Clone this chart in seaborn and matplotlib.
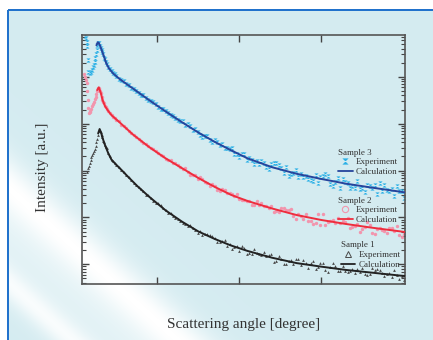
import numpy as np
import matplotlib
matplotlib.use("Agg")
import matplotlib.pyplot as plt
from matplotlib.path import Path
from matplotlib.lines import Line2D
from matplotlib.legend import Legend
from matplotlib.ticker import LogLocator, NullFormatter, FixedLocator, NullLocator
import seaborn as sns

# ---------------------------------------------------------------- data
# scattering angles shared by the three measured curves (after the beam stop)
angle_exp = [
    0.30, 0.31, 0.32, 0.33, 0.34, 0.35, 0.36, 0.37, 0.38, 0.40,
    0.42, 0.44, 0.46, 0.48, 0.50, 0.53, 0.56, 0.59, 0.62, 0.65,
    0.68, 0.71, 0.74, 0.77, 0.80,
    0.83, 0.86, 0.89, 0.92, 0.95, 0.98, 1.01, 1.04, 1.07, 1.10,
    1.13, 1.16, 1.19, 1.22, 1.25, 1.28, 1.31, 1.34, 1.37, 1.40,
    1.43, 1.46, 1.49, 1.52, 1.55, 1.58, 1.61, 1.64, 1.67, 1.70,
    1.73, 1.76, 1.79, 1.82, 1.85, 1.88, 1.91, 1.94, 1.97, 2.00,
    2.03, 2.06, 2.09, 2.12, 2.15, 2.18, 2.21, 2.24, 2.27, 2.30,
    2.33, 2.36, 2.39, 2.42, 2.45, 2.48, 2.51, 2.54, 2.57, 2.60,
    2.63, 2.66, 2.69, 2.72, 2.75, 2.78, 2.81, 2.84, 2.87, 2.90,
    2.93, 2.96, 2.99, 3.02, 3.05, 3.08, 3.11, 3.14, 3.17, 3.20,
    3.23, 3.26, 3.29, 3.32, 3.35, 3.38, 3.41, 3.44, 3.47, 3.50,
    3.53, 3.56, 3.59, 3.62, 3.65, 3.68, 3.71, 3.74, 3.77, 3.80,
    3.83, 3.86, 3.89, 3.92, 3.95, 3.98, 4.01,
]

# Sample 3 -- measured intensity (log10, a.u.)
s3_angle_low = [0.115, 0.124, 0.135, 0.143, 0.149, 0.159, 0.173, 0.185, 0.198,
                0.210, 0.222, 0.234, 0.244, 0.252, 0.261, 0.268, 0.277, 0.286]
s3_exp_low = [4.87, 4.83, 4.75, 4.66, 4.36, 4.10, 4.07, 4.11, 4.15,
              4.20, 4.25, 4.31, 4.39, 4.48, 4.58, 4.68, 4.73, 4.71]
s3_exp = [
    4.65, 4.61, 4.56, 4.52, 4.48, 4.41, 4.37, 4.32, 4.27, 4.21,
    4.16, 4.12, 4.08, 4.05, 4.01, 3.96, 3.92, 3.90, 3.85, 3.82,
    3.77, 3.74, 3.70, 3.66, 3.62,
    3.60, 3.54, 3.50, 3.49, 3.46, 3.41, 3.35, 3.32, 3.31, 3.27,
    3.22, 3.18, 3.17, 3.13, 3.07, 3.06, 3.06, 2.97, 2.99, 2.96,
    2.87, 2.88, 2.83, 2.76, 2.72, 2.73, 2.73, 2.65, 2.60, 2.65,
    2.61, 2.55, 2.57, 2.49, 2.47, 2.46, 2.49, 2.36, 2.35, 2.28,
    2.36, 2.35, 2.22, 2.27, 2.22, 2.14, 2.21, 2.13, 2.20, 2.16,
    2.08, 2.03, 2.13, 2.16, 2.15, 2.11, 2.05, 1.95, 2.07, 1.88,
    1.93, 1.94, 2.01, 1.87, 1.92, 1.87, 1.88, 1.82, 1.79, 1.78,
    1.90, 1.74, 1.86, 1.88, 1.92, 1.88, 1.72, 1.68, 1.75, 1.84,
    1.63, 1.82, 1.76, 1.73, 1.62, 1.66, 1.63, 1.77, 1.61, 1.63,
    1.54, 1.69, 1.68, 1.62, 1.69, 1.50, 1.73, 1.57, 1.69, 1.58,
    1.57, 1.61, 1.45, 1.68, 1.56, 1.56, 1.42,
]
s3_calc_angle = [0.256, 0.272, 0.285, 0.30, 0.32, 0.35, 0.375, 0.41, 0.46, 0.54,
                 0.70, 0.90, 1.10, 1.30, 1.50, 1.70, 1.90, 2.10, 2.40, 2.70,
                 3.00, 3.30, 3.60, 4.015]
s3_calc = [4.67, 4.735, 4.72, 4.66, 4.57, 4.42, 4.29, 4.175, 4.07, 3.95,
           3.75, 3.50, 3.26, 3.03, 2.81, 2.61, 2.43, 2.26, 2.07, 1.93,
           1.82, 1.72, 1.64, 1.535]

# Sample 2
s2_angle_low = [0.105, 0.115, 0.125, 0.135, 0.142, 0.148, 0.155, 0.162, 0.172, 0.182,
                0.195, 0.205, 0.215, 0.225, 0.235, 0.245, 0.255, 0.265, 0.275, 0.285,
                0.292]
s2_exp_low = [4.05, 4.00, 3.94, 3.86, 3.70, 3.50, 3.33, 3.23, 3.24, 3.27,
              3.32, 3.37, 3.42, 3.47, 3.52, 3.57, 3.63, 3.70, 3.75, 3.77,
              3.74]
s2_exp = [
    3.70, 3.66, 3.57, 3.50, 3.46, 3.43, 3.37, 3.35, 3.31, 3.26,
    3.23, 3.18, 3.14, 3.11, 3.08, 3.05, 2.98, 2.94, 2.91, 2.85,
    2.81, 2.76, 2.71, 2.67, 2.63,
    2.58, 2.56, 2.52, 2.48, 2.46, 2.41, 2.37, 2.33, 2.30, 2.25,
    2.22, 2.22, 2.16, 2.15, 2.12, 2.07, 2.04, 2.05, 1.96, 1.90,
    1.90, 1.91, 1.82, 1.86, 1.81, 1.76, 1.73, 1.68, 1.71, 1.68,
    1.59, 1.56, 1.61, 1.59, 1.53, 1.52, 1.50, 1.46, 1.50, 1.39,
    1.37, 1.37, 1.35, 1.36, 1.27, 1.27, 1.34, 1.27, 1.30, 1.25,
    1.25, 1.20, 1.25, 1.12, 1.13, 1.12, 1.20, 1.21, 1.15, 1.16,
    1.17, 1.03, 0.97, 1.08, 1.04, 0.96, 1.07, 0.92, 0.93, 0.87,
    0.89, 1.07, 0.84, 1.07, 0.83, 0.91, 0.93, 0.95, 0.88, 0.99,
    0.89, 0.92, 0.91, 0.99, 0.77, 0.79, 0.82, 0.87, 0.68, 0.76,
    0.79, 0.90, 0.83, 0.67, 0.64, 0.75, 0.77, 0.74, 0.70, 0.66,
    0.78, 0.77, 0.70, 0.82, 0.63, 0.59, 0.65,
]
s2_calc_angle = [0.265, 0.285, 0.31, 0.33, 0.36, 0.40, 0.44, 0.55, 0.70, 0.90,
                 1.10, 1.30, 1.50, 1.70, 1.90, 2.10, 2.40, 2.70, 3.00, 3.30,
                 3.60, 4.015]
s2_calc = [3.716, 3.774, 3.65, 3.51, 3.375, 3.27, 3.18, 3.01, 2.77, 2.50,
           2.26, 2.05, 1.84, 1.65, 1.48, 1.35, 1.19, 1.05, 0.945, 0.86,
           0.785, 0.69]

# Sample 1
s1_angle_low = [0.145, 0.155, 0.165, 0.175, 0.185, 0.195, 0.205, 0.215, 0.225,
                0.235, 0.245, 0.255, 0.265, 0.275, 0.285]
s1_exp_low = [1.97, 2.05, 2.10, 2.16, 2.22, 2.28, 2.33, 2.37, 2.41,
              2.46, 2.52, 2.60, 2.67, 2.76, 2.84]
s1_exp = [
    2.85, 2.82, 2.76, 2.71, 2.64, 2.60, 2.54, 2.50, 2.47, 2.37,
    2.31, 2.22, 2.20, 2.16, 2.12, 2.07, 2.01, 1.96, 1.90, 1.86,
    1.79, 1.74, 1.69, 1.65, 1.60,
    1.57, 1.48, 1.47, 1.41, 1.35, 1.31, 1.30, 1.26, 1.21, 1.16,
    1.09, 1.09, 1.02, 0.99, 0.96, 0.93, 0.88, 0.87, 0.81, 0.84,
    0.77, 0.73, 0.67, 0.72, 0.63, 0.65, 0.65, 0.63, 0.61, 0.57,
    0.47, 0.47, 0.49, 0.51, 0.39, 0.44, 0.32, 0.37, 0.38, 0.29,
    0.38, 0.35, 0.22, 0.25, 0.22, 0.32, 0.24, 0.21, 0.19, 0.26,
    0.17, 0.20, 0.22, 0.04, 0.07, 0.18, 0.11, 0.00, 0.01, 0.07,
    0.10, 0.01, 0.12, 0.11, -0.02, 0.09, 0.03, -0.08, 0.03, 0.06,
    -0.10, -0.05, 0.02, 0.02, -0.12, -0.17, -0.06, 0.02, -0.03, -0.15,
    -0.14, -0.03, -0.15, -0.16, -0.14, -0.10, -0.19, -0.11, -0.16, -0.08,
    -0.20, -0.22, -0.21, -0.08, -0.13, -0.09, -0.12, -0.19, -0.24, -0.20,
    -0.18, -0.28, -0.13, -0.22, -0.32, -0.26, -0.33,
]
s1_calc_angle = [0.277, 0.295, 0.313, 0.326, 0.36, 0.40, 0.44, 0.50, 0.56, 0.64,
                 0.76, 0.90, 1.10, 1.30, 1.50, 1.70, 1.90, 2.10, 2.40, 2.70,
                 3.00, 3.30, 3.60, 4.015]
s1_calc = [2.79, 2.885, 2.81, 2.72, 2.545, 2.37, 2.23, 2.12, 2.015, 1.87,
           1.66, 1.44, 1.15, 0.91, 0.70, 0.54, 0.40, 0.285, 0.14, 0.025,
           -0.05, -0.12, -0.175, -0.25]

sample_titles = ["Sample 3", "Sample 2", "Sample 1"]
entry_labels = ["Experiment", "Calculation"]
x_label = "Scattering angle [degree]"
y_label = "Intensity [a.u.]"

# ---------------------------------------------------------------- style
sns.set_theme(style="ticks")
plt.rcParams["font.family"] = ["Liberation Serif", "DejaVu Serif"]
text_color = "#333333"

cyan, navy = "#2bb0e6", "#26449c"
pink, red = "#f295ad", "#ee2d3d"
grey, black = "#4a4a4a", "#222222"

# hourglass marker (two triangles meeting at the centre)
hourglass = Path([(-1, 1), (1, 1), (-1, -1), (1, -1), (-1, 1)],
                 [Path.MOVETO, Path.LINETO, Path.LINETO, Path.LINETO, Path.CLOSEPOLY])

W, H = 433, 340
fig = plt.figure(figsize=(W / 100, H / 100), dpi=100)

# ------------------------------------------------ panel background
yy, xx = np.mgrid[0:H, 0:W]
u = (0.9 * xx - yy) / 1.345
w = (0.80 * np.exp(-((u + 132) / 22) ** 2)
     + 0.70 * np.exp(-((u + 205) / 14) ** 2)
     + 0.35 * np.exp(-((u + 165) / 45) ** 2))
w = np.clip(w, 0, 1)[..., None]
base = np.array([0.835, 0.925, 0.945])
img = base * (1 - w) + w
img[:10, :] = 1.0
img[:, :8] = 1.0
frame_blue = np.array([0.13, 0.45, 0.80])
img[9:11, 8:] = frame_blue
img[10:, 7:9] = frame_blue

bg = fig.add_axes([0, 0, 1, 1])
bg.imshow(img, aspect="auto", interpolation="nearest")
bg.set_xlim(-0.5, W - 0.5)
bg.set_ylim(H - 0.5, -0.5)
bg.axis("off")

# ------------------------------------------------ main plot
ax = fig.add_axes([82 / W, 56 / H, 322.5 / W, 249 / H])
ax.set_facecolor("none")
ax.set_yscale("log")

series = [
    (s3_angle_low, s3_exp_low, s3_exp, s3_calc_angle, s3_calc, cyan, navy, hourglass, 9),
    (s2_angle_low, s2_exp_low, s2_exp, s2_calc_angle, s2_calc, pink, red, "o", 6),
    (s1_angle_low, s1_exp_low, s1_exp, s1_calc_angle, s1_calc, grey, black, "^", 4),
]
for a_low, e_low, e_main, c_ang, c_val, c_exp, c_line, mk, size in series:
    ang = np.concatenate([a_low, angle_exp])
    inten = 10 ** np.concatenate([e_low, e_main])
    sns.scatterplot(x=ang, y=inten, ax=ax, marker=mk, s=size, color=c_exp,
                    linewidth=0, legend=False, zorder=2)
    sns.lineplot(x=c_ang, y=10 ** np.asarray(c_val), ax=ax, color=c_line,
                 lw=1.4, estimator=None, sort=False, legend=False, zorder=3)

ax.set_xlim(0.08, 4.015)
ax.set_ylim(10 ** -0.42, 10 ** 4.89)

ax.xaxis.set_major_locator(FixedLocator([1, 2, 3]))
ax.xaxis.set_minor_locator(NullLocator())
ax.yaxis.set_major_locator(LogLocator(base=10, numticks=20))
ax.yaxis.set_minor_locator(LogLocator(base=10, subs=np.arange(2, 10), numticks=20))
ax.yaxis.set_minor_formatter(NullFormatter())
ax.tick_params(which="both", direction="in", top=True, right=True,
               labelbottom=False, labelleft=False, color="#444444")
ax.tick_params(which="major", length=5, width=1.0)
ax.tick_params(which="minor", length=3, width=0.8)
for sp in ax.spines.values():
    sp.set_color("#555555")
    sp.set_linewidth(1.2)

ax.set_xlabel(x_label, fontsize=11, color=text_color)
ax.set_ylabel(y_label, fontsize=11, color=text_color)
ax.xaxis.set_label_coords(0.5, -0.161)
ax.xaxis.label.set_va("center")
ax.yaxis.set_label_coords(-0.121, 0.468)
ax.yaxis.label.set_va("center")

# ------------------------------------------------ legends (one block per sample)
legend_specs = [
    (sample_titles[0], Line2D([], [], ls="none", marker=hourglass, ms=4.5, color=cyan,
                              mew=0), navy, (0.794, 0.544)),
    (sample_titles[1], Line2D([], [], ls="none", marker="o", ms=4.5, mfc="none",
                              mec=pink, mew=0.8), red, (0.794, 0.351)),
    (sample_titles[2], Line2D([], [], ls="none", marker="^", ms=4.5, mfc="none",
                              mec=grey, mew=0.7), black, (0.803, 0.171)),
]
for title, h_exp, line_color, anchor in legend_specs:
    h_calc = Line2D([], [], color=line_color, lw=1.3)
    leg = Legend(ax, [h_exp, h_calc], entry_labels, title=title,
                 loc="upper left", bbox_to_anchor=anchor, frameon=False,
                 fontsize=6.5, title_fontsize=6.5, handlelength=1.6,
                 handletextpad=0.4, labelspacing=0.15, borderpad=0,
                 borderaxespad=0, alignment="left")
    for t in leg.get_texts():
        t.set_color(text_color)
    leg.get_title().set_color(text_color)
    ax.add_artist(leg)

fig.savefig("out.png", dpi=100)
